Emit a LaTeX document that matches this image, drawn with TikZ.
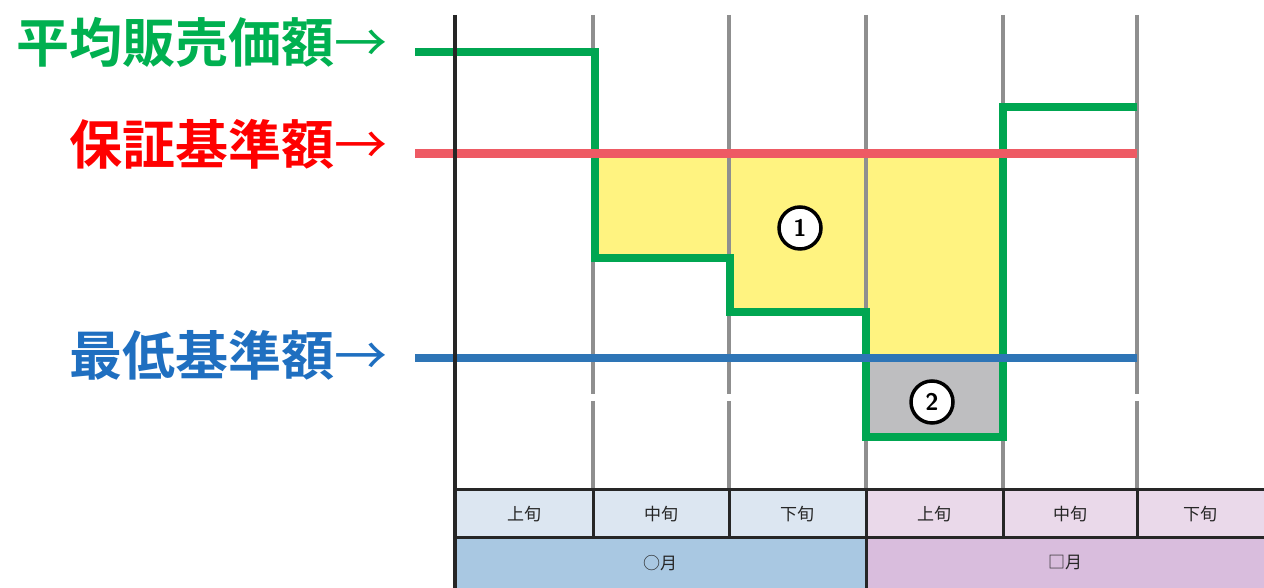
\documentclass[tikz,border=0pt]{standalone}
\usepackage{tkz-euclide}
\usepackage{amsmath}
\usepackage{fontspec}
\newfontfamily\jpfont{Noto Sans CJK JP}[BoldFont={Noto Sans CJK JP Bold}]
\definecolor{avggreen}{HTML}{00A651}
\definecolor{avgtext}{HTML}{00B050}
\definecolor{guarred}{HTML}{EE5A64}
\definecolor{guartext}{HTML}{FF0000}
\definecolor{minblue}{HTML}{2E75B6}
\definecolor{mintext}{HTML}{1F6FC0}
\definecolor{lossyellow}{HTML}{FFF380}
\definecolor{lossgray}{HTML}{BEBEC0}
\definecolor{gridgray}{HTML}{8F8F8F}
\definecolor{headblue}{HTML}{DCE6F1}
\definecolor{headpink}{HTML}{EAD9EA}
\definecolor{monthblue}{HTML}{A9C8E2}
\definecolor{monthpink}{HTML}{D9BDDD}
\tikzset{
  jplabel/.style={font=\jpfont\bfseries\fontsize{53}{53}\selectfont, anchor=east, inner sep=0pt},
  cellfont/.style={font=\jpfont\fontsize{17}{17}\selectfont, text=black!85},
  gridline/.style={draw=gridgray, line width=3.2pt},
  circnum/.style={circle, draw=black, line width=3.5pt, fill=white, minimum size=42pt,
    inner sep=0pt, font=\sffamily\bfseries\fontsize{24}{24}\selectfont}
}

\begin{document}
\begin{tikzpicture}[x=1pt,y=1pt]
    \useasboundingbox (0,0) rectangle (1264,588);
    % Points
    \tkzDefPoint(415,536){a}
    \tkzDefPoint(595,536){b}
    \tkzDefPoint(595,330){c}
    \tkzDefPoint(730,330){d}
    \tkzDefPoint(730,276){e}
    \tkzDefPoint(866,276){f}
    \tkzDefPoint(866,151){g}
    \tkzDefPoint(1003,151){h}
    \tkzDefPoint(1003,481){i}
    \tkzDefPoint(1137,481){j}
    \tkzDefPoint(415,434){r1}
    \tkzDefPoint(1137,434){r2}
    \tkzDefPoint(415,230){s1}
    \tkzDefPoint(1137,230){s2}
    \tkzDefPoint(595,434){p}
    \tkzDefPoint(1003,434){q}
    \tkzDefPoint(866,230){m}
    \tkzDefPoint(1003,230){n}
    \tkzDefPoint(455,573){o1}
    \tkzDefPoint(455,0){o2}
    \tkzDefPoint(1264,98){w6}
    \tkzDefPoint(1264,50){v6}
    \tkzDefPoint(1264,0){k6}
    \tkzDefPoint(866,0){k3}
    \foreach \n/\x in {0/455,1/593,2/729,3/866,4/1003,5/1137}{
      \tkzDefPoint(\x,573){x\n}
      \tkzDefPoint(\x,194){y\n}
      \tkzDefPoint(\x,187){z\n}
      \tkzDefPoint(\x,98){w\n}
      \tkzDefPoint(\x,50){v\n}
    }
    % Filling
    \fill[lossyellow] (p) -- (q) -- (n) -- (m) -- (f) -- (e) -- (d) -- (c) -- cycle;
    \fill[lossgray] (m) -- (n) -- (h) -- (g) -- cycle;
    \fill[headblue] (w0) rectangle (v3);
    \fill[headpink] (w3) rectangle (v6);
    \fill[monthblue] (v0) rectangle (k3);
    \fill[monthpink] (v3) rectangle (k6);
    % Drawing
    \foreach \n in {1,...,5}{
      \draw[gridline] (x\n) -- (y\n);
      \draw[gridline] (z\n) -- (w\n);
    }
    \draw[avggreen, line width=8pt, line join=miter]
      (a) -- (b) -- (c) -- (d) -- (e) -- (f) -- (g) -- (h) -- (i) -- (j);
    \draw[guarred, line width=9pt] (r1) -- (r2);
    \draw[minblue, line width=8pt] (s1) -- (s2);
    \draw[black!85, line width=3pt] (w0) -- (w6) (v0) -- (v6)
      (w1) -- (v1) (w2) -- (v2) (w3) -- (k3) (w4) -- (v4) (w5) -- (v5);
    \draw[black!85, line width=4pt] (o1) -- (o2);
    % Labels
    \node[jplabel, text=avgtext] (avg) at (388,546) {平均販売価額{\mdseries →}};
    \node[jplabel, text=guartext] (guar) at (388,444) {保証基準額{\mdseries →}};
    \node[jplabel, text=mintext] (low) at (388,233) {最低基準額{\mdseries →}};
    \node[circnum] (one) at (800,360) {1};
    \node[circnum] (two) at (932,186) {2};
    \node[cellfont] (c1) at (524,74) {上旬};
    \node[cellfont] (c2) at (661,74) {中旬};
    \node[cellfont] (c3) at (797,74) {下旬};
    \node[cellfont] (c4) at (934,74) {上旬};
    \node[cellfont] (c5) at (1070,74) {中旬};
    \node[cellfont] (c6) at (1200,74) {下旬};
    \node[cellfont] (mo1) at (660,25) {○月};
    \node[cellfont] (mo2) at (1065,25) {□月};
\end{tikzpicture}
\end{document}
